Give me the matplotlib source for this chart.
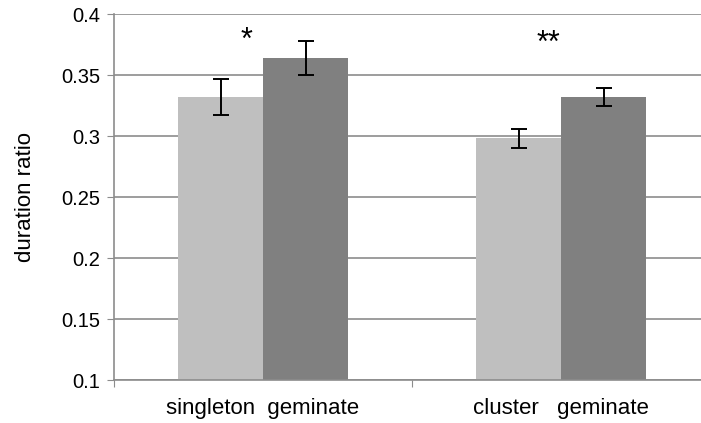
import matplotlib.pyplot as plt
import numpy as np

plt.rcParams['font.family'] = ['Liberation Sans', 'DejaVu Sans']

# Data
groups = ["singleton  geminate", "cluster   geminate"]
light_vals = [0.332, 0.298]
light_err = [0.0145, 0.0078]
dark_vals = [0.364, 0.332]
dark_err = [0.014, 0.0076]
stars = ["*", "**"]
star_x = [-0.055, -0.043]
star_y = [0.3715, 0.369]

fig = plt.figure(figsize=(7.01, 4.23), dpi=100)
# axes extends beyond right edge, like the original (clipped chart)
ax = fig.add_axes([114 / 701, (423 - 380) / 423, 596 / 701, 366 / 423])

x = np.arange(len(groups))
w = 85 / 298
grid_c = '#8c8c8c'

ax.set_axisbelow(True)
ax.yaxis.grid(True, color=grid_c, linewidth=1.2)

err_kw = dict(ecolor='black', elinewidth=1.4, capsize=6, capthick=1.4)
ax.bar(x - w / 2, light_vals, w, bottom=0, color='#bfbfbf',
       yerr=light_err, error_kw=err_kw, zorder=2)
ax.bar(x + w / 2, dark_vals, w, bottom=0, color='#808080',
       yerr=dark_err, error_kw=err_kw, zorder=2)

for i, (sx, sy, s) in enumerate(zip(star_x, star_y, stars)):
    ax.text(x[i] + sx, sy, s, ha='center', va='baseline',
            fontsize=22, color='black')

ax.set_ylim(0.1, 0.4)
ax.set_xlim(-0.5, 1.5)
ax.set_yticks(np.arange(0.1, 0.401, 0.05))
ax.set_yticklabels(["0.1", "0.15", "0.2", "0.25", "0.3", "0.35", "0.4"])
ax.set_ylabel("duration ratio", fontsize=16, labelpad=18)

# group boundary ticks, labels at group centres
ax.set_xticks([-0.5, 0.5, 1.5])
ax.set_xticklabels([])
ax.set_xticks(x, minor=True)
ax.set_xticklabels(groups, minor=True)
ax.tick_params(axis='x', which='minor', length=0, pad=13, labelsize=16)
ax.tick_params(axis='x', which='major', length=5, color=grid_c, direction='out')
ax.tick_params(axis='y', length=5, color=grid_c, labelsize=14.5, pad=5)

for s in ['top', 'right']:
    ax.spines[s].set_visible(False)
for s in ['left', 'bottom']:
    ax.spines[s].set_color(grid_c)
    ax.spines[s].set_linewidth(1.2)

plt.savefig("out.png", dpi=100)
plt.close()
